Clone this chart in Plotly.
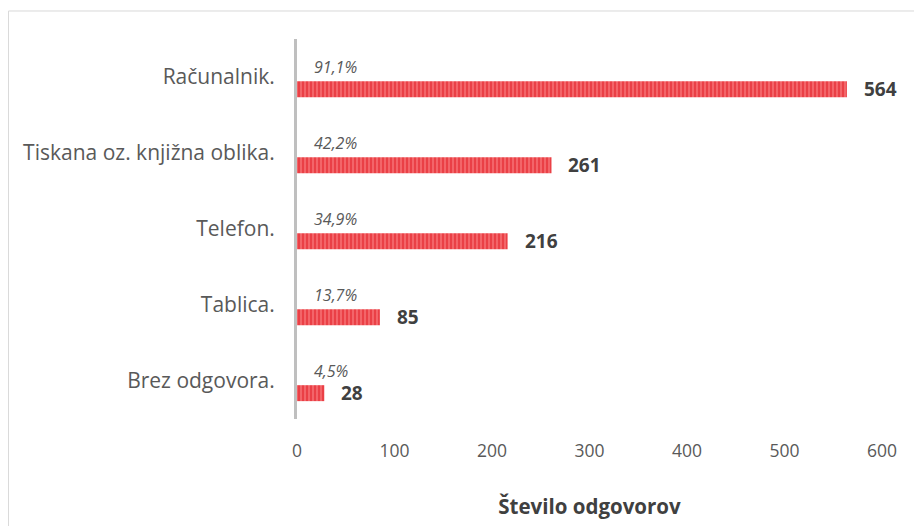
import plotly.graph_objects as go

categories = ["Brez odgovora.", "Tablica.", "Telefon.", "Tiskana oz. knjižna oblika.", "Računalnik."]
counts = [28, 85, 216, 261, 564]
percents = ["4,5%", "13,7%", "34,9%", "42,2%", "91,1%"]
x_ticks = [0, 100, 200, 300, 400, 500, 600]

FONT = "'Open Sans', sans-serif"

fig = go.Figure()
fig.add_trace(go.Bar(
    y=categories, x=counts, orientation="h",
    width=0.21, offset=-0.265,
    marker=dict(color="#E8343A", line=dict(width=0),
                pattern=dict(shape="|", fgcolor="#E01820", bgcolor="#F4686D",
                             size=4, solidity=0.55)),
    hoverinfo="x+y", showlegend=False,
))

annotations = []
for cat, val, pct in zip(categories, counts, percents):
    annotations.append(dict(x=0, y=cat, xref="x", yref="y", text=f"<i>{pct}</i>",
                            showarrow=False, xanchor="left", yanchor="middle",
                            xshift=15, yshift=10,
                            font=dict(family=FONT, size=16, color="#595959")))
    annotations.append(dict(x=val, y=cat, xref="x", yref="y", text=f"<b>{val}</b>",
                            showarrow=False, xanchor="left", yanchor="middle",
                            xshift=15, yshift=-12,
                            font=dict(family=FONT, size=19, color="#404040")))

fig.update_layout(
    width=922, height=526,
    margin=dict(l=289, r=48, t=31, b=115),
    paper_bgcolor="white", plot_bgcolor="white",
    font=dict(family=FONT, color="#595959", size=17),
    annotations=annotations,
    xaxis=dict(range=[0, 600], tickvals=x_ticks, showgrid=False, zeroline=False,
               showline=False, ticks="", ticklabelstandoff=19,
               tickfont=dict(family=FONT, size=17.5, color="#595959"),
               title=dict(text="<b>Število odgovorov</b>", standoff=39,
                          font=dict(family=FONT, size=20.5, color="#404040"))),
    yaxis=dict(categoryorder="array", categoryarray=categories, showgrid=False,
               zeroline=False, showline=True, linecolor="#BFBFBF", linewidth=3,
               ticks="", ticklabelstandoff=15,
               tickfont=dict(family=FONT, size=21, color="#595959")),
    shapes=[dict(type="rect", xref="paper", yref="paper",
                 x0=-0.4932, x1=1.08, y0=-0.3, y1=1.0737,
                 line=dict(color="#D9D9D9", width=1), layer="below")],
)

fig.write_html("out.html")
